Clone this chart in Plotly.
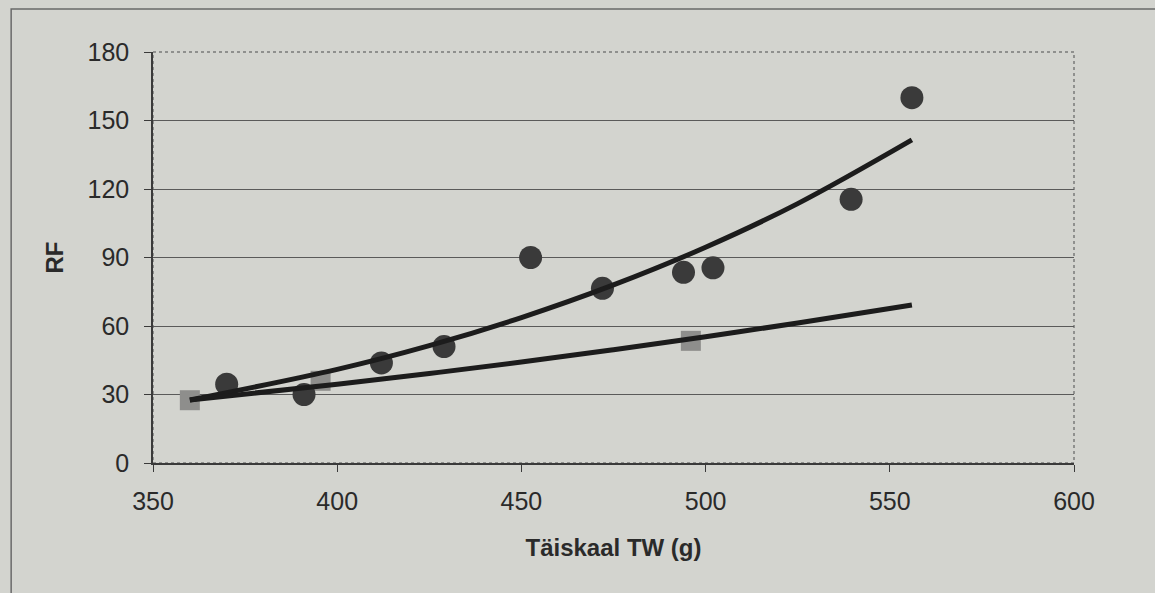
import plotly.graph_objects as go

# Data
circle_x = [370, 391, 412, 429, 452.5, 472, 494, 502, 539.5, 556]
circle_y = [34.5, 30, 43.8, 51, 90, 76.5, 83.5, 85.5, 115.5, 160]

square_x = [360, 395.5, 496]
square_y = [27.5, 36, 53.5]

trend_x = [360, 400, 425, 450, 475, 500, 525, 556]
trend_upper_y = [27.6, 41.0, 51.4, 63.7, 78.0, 94.5, 113.6, 141.5]
trend_lower_y = [27.6, 34.5, 39.2, 44.2, 49.6, 55.3, 61.3, 69.2]

x_ticks = [350, 400, 450, 500, 550, 600]
y_ticks = [0, 30, 60, 90, 120, 150, 180]

BG = "#d3d4cf"
FONT = "Liberation Sans, Arial, sans-serif"
TXT = "#2a2a2a"

fig = go.Figure()

fig.add_trace(go.Scatter(
    x=square_x, y=square_y, mode="markers",
    marker=dict(symbol="square", size=20, color="#8e8e8c", line=dict(width=0)),
    showlegend=False, hoverinfo="skip"))

fig.add_trace(go.Scatter(
    x=circle_x, y=circle_y, mode="markers",
    marker=dict(symbol="circle", size=23, color="#3a3a3a", line=dict(width=0)),
    showlegend=False, hoverinfo="skip"))

fig.add_trace(go.Scatter(
    x=trend_x, y=trend_upper_y, mode="lines",
    line=dict(color="#1c1c1c", width=5, shape="spline"),
    showlegend=False, hoverinfo="skip"))

fig.add_trace(go.Scatter(
    x=trend_x, y=trend_lower_y, mode="lines",
    line=dict(color="#1c1c1c", width=5, shape="spline"),
    showlegend=False, hoverinfo="skip"))

fig.update_layout(
    width=1155, height=593,
    margin=dict(l=153, r=81, t=52, b=130),
    paper_bgcolor=BG, plot_bgcolor=BG,
    font=dict(family=FONT, size=25, color=TXT),
    xaxis=dict(
        range=[350, 600], tickvals=x_ticks, ticktext=[str(v) for v in x_ticks],
        showgrid=False, zeroline=False,
        showline=True, linecolor="#3a3a3a", linewidth=1.5,
        ticks="outside", ticklen=7, tickcolor="#3a3a3a", tickwidth=1,
        tickfont=dict(size=25, color=TXT), ticklabelstandoff=8,
        title=dict(text="<b>Täiskaal TW (g)</b>", font=dict(size=24, color=TXT), standoff=25),
    ),
    yaxis=dict(
        range=[0, 180], tickvals=y_ticks, ticktext=[str(v) for v in y_ticks],
        showgrid=True, gridcolor="#5a5a5a", gridwidth=1,
        zeroline=False,
        showline=True, linecolor="#3a3a3a", linewidth=1.5,
        ticks="outside", ticklen=7, tickcolor="#3a3a3a", tickwidth=1,
        tickfont=dict(size=25, color=TXT), ticklabelstandoff=10,
        title=dict(text="<b>RF</b>", font=dict(size=24, color=TXT), standoff=17),
    ),
    shapes=[
        # outer chart border
        dict(type="rect", xref="paper", yref="paper",
             x0=-142 / 922, x1=1080 / 922, y0=-140 / 411, y1=1.0 + 43 / 411,
             line=dict(color="#6a6a6a", width=1.5), fillcolor="rgba(0,0,0,0)", layer="below"),
        # plot area border (top and right)
        dict(type="rect", xref="paper", yref="paper", x0=0, x1=1, y0=0, y1=1,
             line=dict(color="#7a7a7a", width=1.5, dash="dot"), fillcolor="rgba(0,0,0,0)", layer="below"),
    ],
)

fig.write_html("out.html")
